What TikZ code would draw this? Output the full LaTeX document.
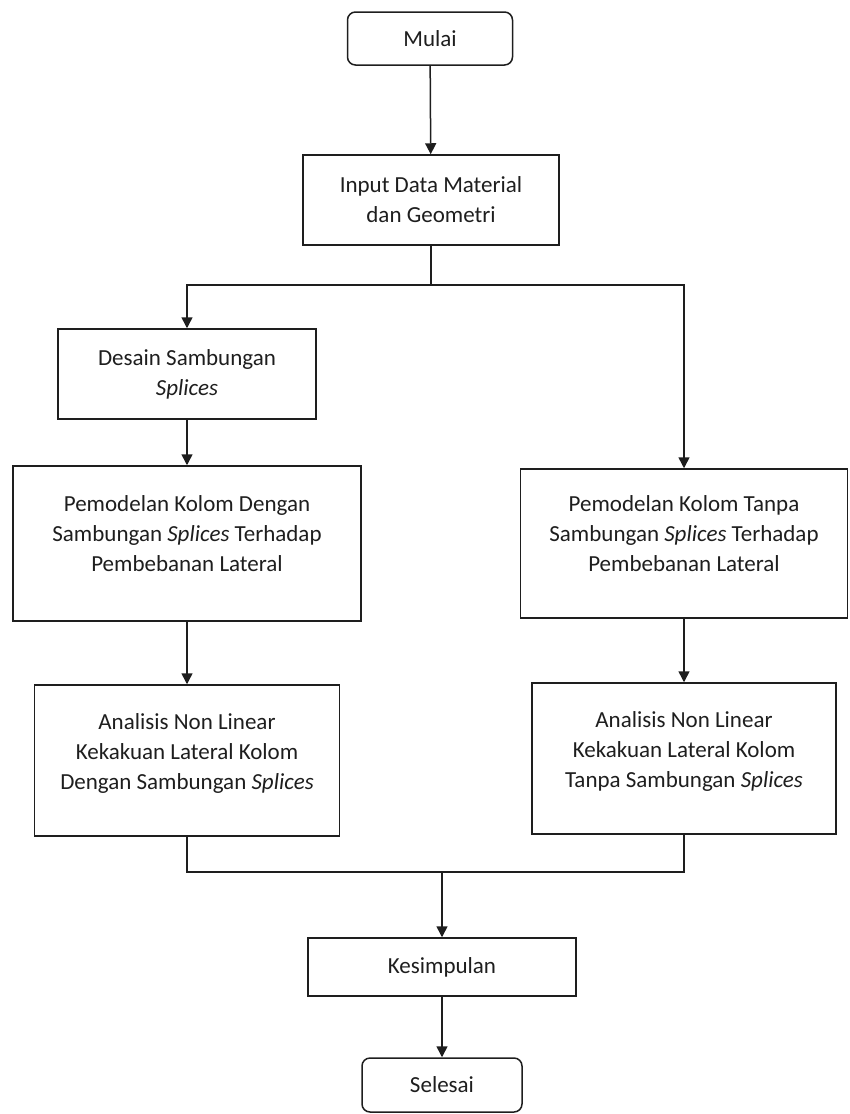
\documentclass[tikz,border=0pt]{standalone}
\usepackage{fontspec}
\setmainfont{Carlito}
\usetikzlibrary{arrows.meta}

\definecolor{ink}{RGB}{30,30,30}
\tikzset{
  box/.style={draw=ink, text=ink, line width=1.5pt, align=center,
    inner sep=0pt, font=\fontsize{23}{30}\selectfont},
  term/.style={box, rounded corners=8pt},
  link/.style={draw=ink, line width=1.5pt},
  arr/.style={link, -{Triangle[width=11pt,length=11pt]}},
}

\begin{document}
\begin{tikzpicture}[x=1pt,y=-1pt]

  \newcommand\XL{187}
  \newcommand\XR{684}

  \useasboundingbox (0,0) rectangle (849,1114); %% positioning

  \node[term, minimum width=165pt, minimum height=53pt] (mulai) at (430,38.5) {Mulai};
  \node[box, minimum width=256pt, minimum height=90pt] (input) at (431,200)
  {Input Data Material\\dan Geometri};

  %% left branch
  \node[box, minimum width=258pt, minimum height=90pt] (desain) at (\XL,374)
  {Desain Sambungan\\\textit{Splices}};
  \node[box, minimum width=348pt, minimum height=155pt] (pemL) at (\XL,543.5)
  {Pemodelan Kolom Dengan\\Sambungan \textit{Splices} Terhadap\\Pembebanan Lateral\\[-10pt]};
  \node[box, minimum width=305pt, minimum height=151pt] (anaL) at (\XL,760.5)
  {Analisis Non Linear\\Kekakuan Lateral Kolom\\Dengan Sambungan \textit{Splices}\\[-13pt]};

  %% right branch
  \node[box, minimum width=327pt, minimum height=149pt] (pemR) at (\XR,543.5)
  {Pemodelan Kolom Tanpa\\Sambungan \textit{Splices} Terhadap\\Pembebanan Lateral\\[-11pt]};
  \node[box, minimum width=304pt, minimum height=151pt] (anaR) at (\XR,758.5)
  {Analisis Non Linear\\Kekakuan Lateral Kolom\\Tanpa Sambungan \textit{Splices}\\[-13pt]};

  \node[box, minimum width=268pt, minimum height=58pt] (kesimpulan) at (442,967) {Kesimpulan};
  \node[term, minimum width=160pt, minimum height=54pt] (selesai) at (442,1085) {Selesai};

  \coordinate (split) at (431,285);
  \coordinate (merge) at (442,872);

  \draw[arr] (mulai) -- (input);
  \draw[link] (input) -- (split);
  \draw[arr] (split) -| (desain);
  \draw[arr] (split) -| (pemR);
  \draw[arr] (desain) -- (pemL);
  \draw[arr] (pemL) -- (anaL);
  \draw[arr] (pemR) -- (anaR);
  \draw[link] (anaL) |- (merge) -| (anaR);
  \draw[arr] (merge) -- (kesimpulan);
  \draw[arr] (kesimpulan) -- (selesai);

\end{tikzpicture}
\end{document}
